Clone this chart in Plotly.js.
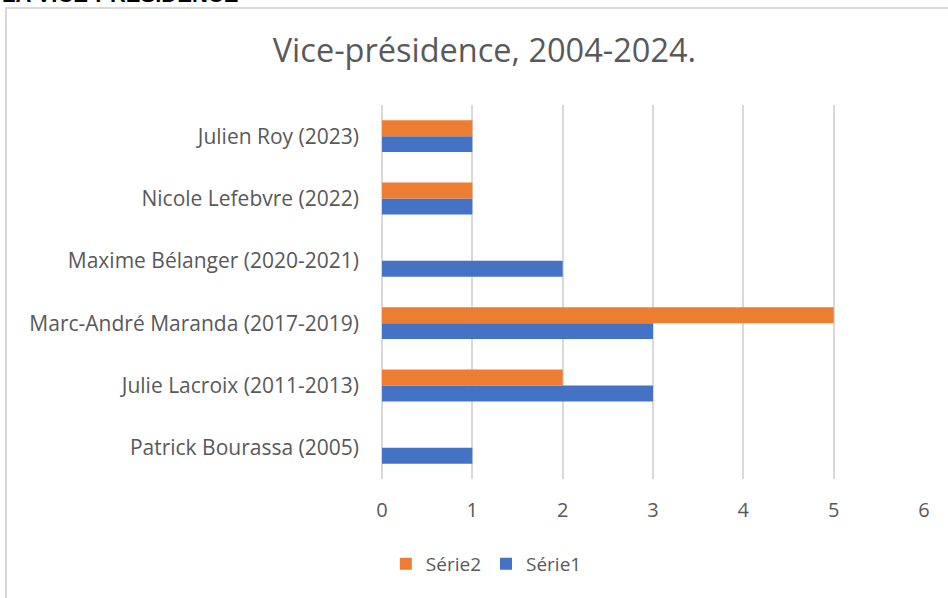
<!DOCTYPE html>
<html><head><meta charset="utf-8">
<script src="https://cdn.plot.ly/plotly-3.0.1.min.js"></script>
<style>
html,body{margin:0;padding:0;background:#fff;overflow:hidden}
#frame{position:absolute;left:5px;top:7px;width:1000px;height:700px;border:2px solid #d9d9d9;box-sizing:border-box}
#chart{position:absolute;left:0;top:0;width:948px;height:598px}
</style></head>
<body>
<div id="frame"></div>
<div id="chart"></div>
<script>
const categories = ["Patrick Bourassa (2005)","Julie Lacroix (2011-2013)","Marc-André Maranda (2017-2019)","Maxime Bélanger (2020-2021)","Nicole Lefebvre (2022)","Julien Roy (2023)"];
const serie1 = [1,3,3,2,1,1];
const serie2 = [0,2,5,0,1,1];
const xTicks = [0,1,2,3,4,5,6];
const seriesNames = ["Série1","Série2"];
const titleText = "Vice-présidence, 2004-2024.";
const headerText = "LA VICE-PRÉSIDENCE";

const font = "'Open Sans', Lato, sans-serif";
const data = [
  {type:'bar', orientation:'h', name:seriesNames[0], y:categories, x:serie1, marker:{color:'#4472C4'}, hoverinfo:'x+name'},
  {type:'bar', orientation:'h', name:seriesNames[1], y:categories, x:serie2, marker:{color:'#ED7D31'}, hoverinfo:'x+name'}
];
const layout = {
  width:948, height:598,
  paper_bgcolor:'rgba(0,0,0,0)', plot_bgcolor:'rgba(0,0,0,0)',
  margin:{l:382, r:24, t:105, b:119},
  barmode:'group', bargap:0.49, bargroupgap:0,
  font:{family:font, color:'#595959', size:18},
  title:{text:titleText, x:0.511, xanchor:'center', y:0.916, yanchor:'middle', yref:'container', font:{size:32.5, color:'#595959', family:font}},
  xaxis:{range:[0,6], tickvals:xTicks, showgrid:true, gridcolor:'#d9d9d9', gridwidth:1.5, zeroline:true, zerolinecolor:'#d9d9d9', zerolinewidth:1.5, showline:false, ticks:'', ticklabelstandoff:17, tickfont:{size:20, color:'#595959'}, fixedrange:true},
  yaxis:{type:'category', categoryorder:'array', categoryarray:categories, showgrid:false, zeroline:false, showline:false, ticks:'', ticklabelstandoff:22, tickfont:{size:21, color:'#595959'}, fixedrange:true},
  legend:{orientation:'h', traceorder:'reversed', x:0.513, xanchor:'center', xref:'container', y:0.057, yanchor:'middle', yref:'container', font:{size:19, color:'#595959'}, itemwidth:20},
  showlegend:true,
  annotations:[{text:'<b>'+headerText+'</b>', xref:'paper', yref:'paper', x:-382/542, xanchor:'left', y:(479-9)/374, yanchor:'bottom', showarrow:false, font:{size:22, color:'#000', family:"'Liberation Sans', Arial, sans-serif"}}]
};
Plotly.newPlot('chart', data, layout, {displayModeBar:false, responsive:false});
</script>
</body></html>
